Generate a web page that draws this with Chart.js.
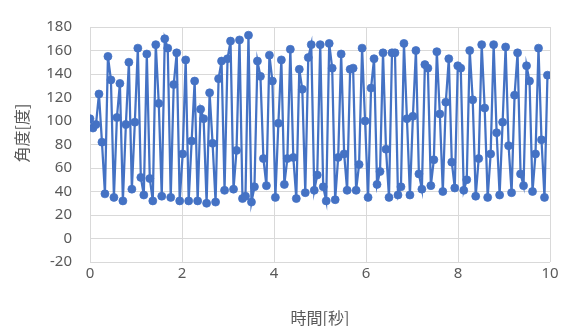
<!DOCTYPE html>
<html>
<head>
<meta charset="utf-8">
<script src="https://cdn.jsdelivr.net/npm/chart.js@4/dist/chart.umd.min.js"></script>
<style>
  html, body { margin: 0; padding: 0; background: #ffffff; }
  #wrap { width: 566px; height: 326px; }
</style>
</head>
<body>
<div id="wrap"><canvas id="c" width="566" height="326"></canvas></div>
<script>
// Sample times [s]
const times = [
  0, 0.065, 0.13, 0.195, 0.26, 0.325, 0.39, 0.455, 0.52, 0.585,
  0.65, 0.715, 0.78, 0.845, 0.91, 0.975, 1.04, 1.105, 1.17, 1.235,
  1.3, 1.365, 1.43, 1.495, 1.56, 1.625, 1.69, 1.755, 1.82, 1.885,
  1.95, 2.015, 2.08, 2.145, 2.21, 2.275, 2.34, 2.405, 2.47, 2.535,
  2.6, 2.665, 2.73, 2.795, 2.86, 2.925, 2.99, 3.055, 3.12, 3.185,
  3.25, 3.315, 3.38, 3.445, 3.51, 3.575, 3.64, 3.705, 3.77, 3.835,
  3.9, 3.965, 4.03, 4.095, 4.16, 4.225, 4.29, 4.355, 4.42, 4.485,
  4.55, 4.615, 4.68, 4.745, 4.81, 4.875, 4.94, 5.005, 5.07, 5.135,
  5.2, 5.265, 5.33, 5.395, 5.46, 5.525, 5.59, 5.655, 5.72, 5.785,
  5.85, 5.915, 5.98, 6.045, 6.11, 6.175, 6.24, 6.305, 6.37, 6.435,
  6.5, 6.565, 6.63, 6.695, 6.76, 6.825, 6.89, 6.955, 7.02, 7.085,
  7.15, 7.215, 7.28, 7.345, 7.41, 7.475, 7.54, 7.605, 7.67, 7.735,
  7.8, 7.865, 7.93, 7.995, 8.06, 8.125, 8.19, 8.255, 8.32, 8.385,
  8.45, 8.515, 8.58, 8.645, 8.71, 8.775, 8.84, 8.905, 8.97, 9.035,
  9.1, 9.165, 9.23, 9.295, 9.36, 9.425, 9.49, 9.555, 9.62, 9.685,
  9.75, 9.815, 9.88, 9.945
];

// Measured angle [deg] at each sample time
const angles = [
  102, 94, 97, 123, 82, 38, 155, 135, 35, 103,
  132, 32, 97, 150, 42, 99, 162, 52, 37, 157,
  51, 32, 165, 115, 36, 170, 162, 35, 131, 158,
  32, 72, 152, 32, 83, 134, 32, 110, 102, 30,
  124, 81, 31, 136, 151, 41, 153, 168, 42, 75,
  169, 34, 36, 173, 31, 44, 151, 138, 68, 45,
  156, 134, 35, 98, 152, 46, 68, 161, 69, 34,
  144, 127, 39, 154, 165, 41, 54, 165, 44, 32,
  166, 145, 33, 69, 157, 72, 41, 144, 145, 41,
  63, 162, 100, 35, 128, 153, 46, 57, 158, 76,
  35, 158, 158, 37, 44, 166, 102, 37, 104, 160,
  55, 42, 148, 145, 45, 67, 159, 106, 40, 116,
  153, 65, 43, 147, 145, 41, 50, 160, 118, 36,
  68, 165, 111, 35, 72, 165, 90, 37, 99, 163,
  79, 39, 122, 158, 55, 45, 147, 134, 40, 72,
  162, 84, 35, 139
];

const xTickValues = [0, 2, 4, 6, 8, 10];
const yTickValues = [-20, 0, 20, 40, 60, 80, 100, 120, 140, 160, 180];

const xTitle = '時間[秒]';
const yTitle = '角度[度]';

const lineColor = '#4472C4';
const gridColor = '#d9d9d9';
const textColor = '#595959';

const points = times.map((t, i) => ({ x: t, y: angles[i] }));

// Axis titles drawn on the canvas beside the plot area
const axisTitles = {
  id: 'axisTitles',
  afterDraw(chart) {
    const { ctx, chartArea } = chart;
    ctx.save();
    ctx.fillStyle = textColor;
    ctx.font = '16px "Noto Sans CJK JP"';
    ctx.textAlign = 'center';
    ctx.textBaseline = 'middle';
    ctx.fillText(xTitle, (chartArea.left + chartArea.right) / 2, 318);
    ctx.translate(22, 133);
    ctx.rotate(-Math.PI / 2);
    ctx.fillText(yTitle, 0, 0);
    ctx.restore();
  }
};

new Chart(document.getElementById('c'), {
  type: 'scatter',
  data: {
    datasets: [{
      data: points,
      showLine: true,
      borderColor: lineColor,
      borderWidth: 2.25,
      pointRadius: 4,
      pointBorderWidth: 0.75,
      pointBackgroundColor: lineColor,
      pointBorderColor: lineColor,
      tension: 0
    }]
  },
  options: {
    responsive: false,
    animation: false,
    devicePixelRatio: 1,
    layout: { padding: { top: 19, right: 16, left: 0, bottom: 0 } },
    plugins: { legend: { display: false }, tooltip: { enabled: false } },
    scales: {
      x: {
        type: 'linear',
        min: 0,
        max: 10,
        afterBuildTicks: s => { s.ticks = xTickValues.map(v => ({ value: v })); },
        afterFit: s => { s.height = 64; },
        grid: { color: gridColor, drawTicks: false },
        border: { display: false },
        ticks: { color: textColor, padding: 3, font: { family: 'Noto Sans', size: 15 } }
      },
      y: {
        type: 'linear',
        min: -20,
        max: 180,
        afterBuildTicks: s => { s.ticks = yTickValues.map(v => ({ value: v })); },
        afterFit: s => { s.width = 90; },
        grid: { color: gridColor, drawTicks: false },
        border: { display: false },
        ticks: { color: textColor, padding: 18, font: { family: 'Noto Sans', size: 15 } }
      }
    }
  },
  plugins: [axisTitles]
});
</script>
</body>
</html>
